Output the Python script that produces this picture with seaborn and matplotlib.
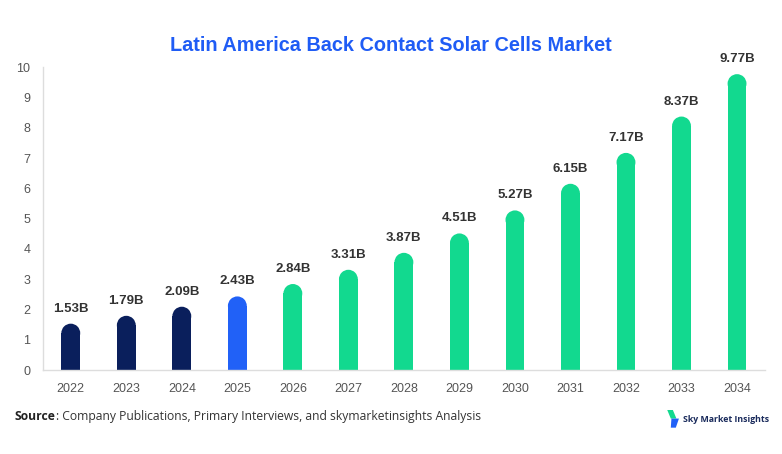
import numpy as np
import pandas as pd
import seaborn as sns
import matplotlib.pyplot as plt
from matplotlib.patches import Ellipse, Polygon

years = ['2022', '2023', '2024', '2025', '2026', '2027', '2028',
         '2029', '2030', '2031', '2032', '2033', '2034']
values = [1.53, 1.79, 2.09, 2.43, 2.84, 3.31, 3.87, 4.51, 5.27, 6.15, 7.17, 8.37, 9.77]
labels = ['1.53B', '1.79B', '2.09B', '2.43B', '2.84B', '3.31B', '3.87B',
          '4.51B', '5.27B', '6.15B', '7.17B', '8.37B', '9.77B']
phase = ['hist', 'hist', 'hist', 'base', 'fc', 'fc', 'fc', 'fc', 'fc', 'fc', 'fc', 'fc', 'fc']

col_map = {'hist': '#0a1f5c', 'base': '#2161f7', 'fc': '#12d98f'}

df = pd.DataFrame({'year': years, 'value': values, 'phase': phase})

sns.set_style('white')
plt.rcParams['font.family'] = ['Liberation Sans', 'DejaVu Sans']

fig = plt.figure(figsize=(7.82, 4.54), dpi=100)
ax = fig.add_axes([0.055, 0.185, 0.923, 0.667])

sns.barplot(data=df, x='year', y='value', hue='phase', palette=col_map,
            dodge=False, width=0.34, legend=False, ax=ax, saturation=1)

ax.set_xlim(-0.5, 12.5)
ax.set_ylim(0, 10)
ax.set_yticks(range(0, 11))
ax.set_xlabel('')
ax.set_ylabel('')
for s in ['top', 'right']:
    ax.spines[s].set_visible(False)
for s in ['left', 'bottom']:
    ax.spines[s].set_color('#dddddd')
    ax.spines[s].set_linewidth(1)
ax.tick_params(axis='both', length=0, labelsize=9, labelcolor='#555555')
ax.tick_params(axis='x', pad=9)
ax.tick_params(axis='y', pad=9)

# rounded tops: shorten each bar and cap it with an ellipse that is round in pixels
fig.canvas.draw()
px_per_x = ax.transData.transform((1, 0))[0] - ax.transData.transform((0, 0))[0]
px_per_y = ax.transData.transform((0, 1))[1] - ax.transData.transform((0, 0))[1]
bars = [p for p in ax.patches if p.get_height() > 0]
bars.sort(key=lambda p: p.get_x())
for p, lab in zip(bars, labels):
    x, w, h = p.get_x(), p.get_width(), p.get_height()
    r = w * px_per_x / 2 / px_per_y
    p.set_height(h - r)
    p.set_edgecolor('none')
    cap = Ellipse((x + w / 2, h - r), w, 2 * r, facecolor=p.get_facecolor(),
                  edgecolor='none')
    ax.add_patch(cap)
    ax.annotate(lab, (x + w / 2, h), xytext=(0, 6.5), textcoords='offset points',
                ha='center', va='bottom', fontsize=9.5, fontweight='bold',
                color='#333333')

fig.text(0.5, 0.899, 'Latin America Back Contact Solar Cells Market',
         ha='center', va='center', fontsize=14.3, fontweight='bold', color='#1f5cf5')

src_font = ['Open Sans', 'DejaVu Sans']
t_src = fig.text(0.019, 0.082, 'Source', ha='left', va='center', fontsize=8.7,
                 fontweight='bold', color='#222222', family=src_font)
fig.canvas.draw()
bb = t_src.get_window_extent()
x_after = bb.x1 / fig.bbox.width
fig.text(x_after, 0.082, ': Company Publications, Primary Interviews, and skymarketinsights Analysis',
         ha='left', va='center', fontsize=8.7, color='#333333', family=src_font)

# logo
logo_ax = fig.add_axes([0.853, 0.058, 0.016, 0.04])
logo_ax.set_xlim(0, 1)
logo_ax.set_ylim(0, 1)
logo_ax.axis('off')
logo_ax.add_patch(Polygon([[0.0, 1.0], [0.45, 1.0], [0.75, 0.5], [0.3, 0.5]],
                          facecolor='#12d98f', edgecolor='none'))
logo_ax.add_patch(Polygon([[0.35, 0.5], [0.95, 0.5], [0.7, 0.0], [0.3, 0.0]],
                          facecolor='#2161f7', edgecolor='none'))
fig.text(0.873, 0.077, 'Sky Market Insights', ha='left', va='center', fontsize=6.3,
         fontweight='bold', color='#1a2b5c', family=src_font)

fig.savefig('out.png', dpi=100)
